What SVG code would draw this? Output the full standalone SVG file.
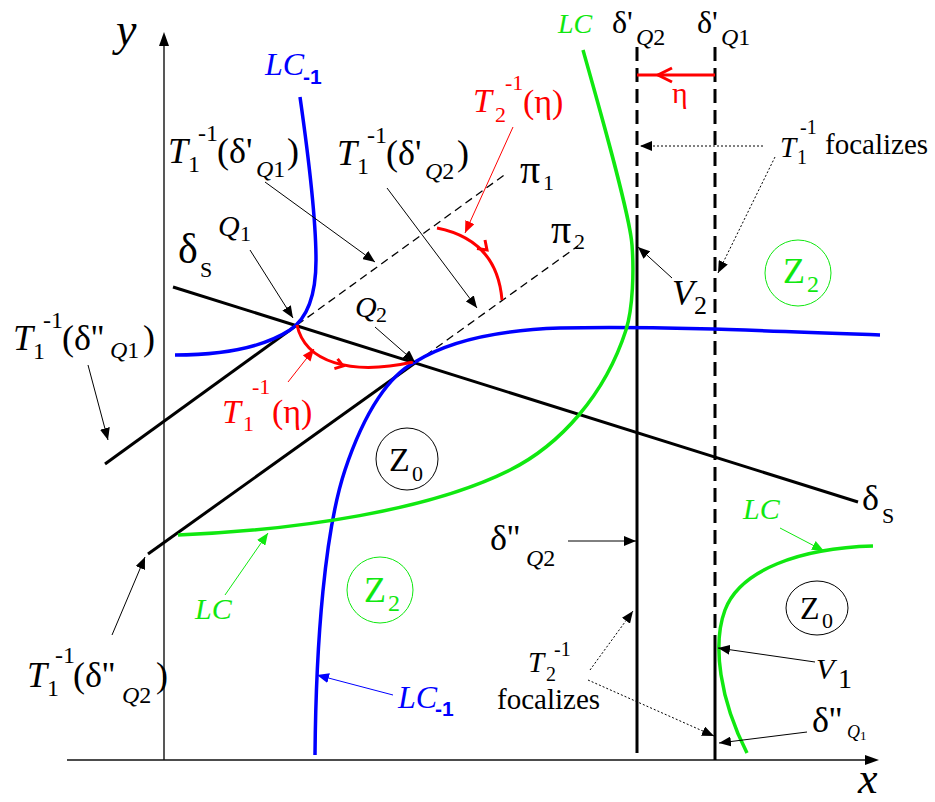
<svg xmlns="http://www.w3.org/2000/svg" width="935" height="802" viewBox="0 0 935 802">
<style>
.ax{stroke:#111;stroke-width:1.4;fill:none}
.thick{stroke:#000;stroke-width:3;fill:none}
.blue{stroke:#0000ff;stroke-width:3.5;fill:none}
.green{stroke:#10e810;stroke-width:3.5;fill:none}
.red{stroke:#ff0000;stroke-width:3;fill:none}
.thin{stroke:#000;stroke-width:1;fill:none}
.dot{stroke:#000;stroke-width:1;stroke-dasharray:2 2;fill:none}
.dashT{stroke:#000;stroke-width:1.3;stroke-dasharray:8 5;fill:none}
.dashV{stroke:#000;stroke-width:3;stroke-dasharray:14 7;fill:none}
text{font-family:'Liberation Serif','Times New Roman',serif}
.i{font-style:italic}
.s{font-family:'Liberation Sans',Arial,sans-serif;font-weight:bold;font-style:normal}
.rt{fill:#ff0000}
.bt{fill:#0000ff}
.gt{fill:#10e810}
</style>
<defs>
<marker id="ak" markerUnits="userSpaceOnUse" markerWidth="12" markerHeight="10" refX="12" refY="5" orient="auto"><path d="M0,0 L12,5 L0,10 z" fill="#000"/></marker>
<marker id="ar" markerUnits="userSpaceOnUse" markerWidth="12" markerHeight="10" refX="12" refY="5" orient="auto"><path d="M0,0 L12,5 L0,10 z" fill="#ff0000"/></marker>
<marker id="ag" markerUnits="userSpaceOnUse" markerWidth="12" markerHeight="10" refX="12" refY="5" orient="auto"><path d="M0,0 L12,5 L0,10 z" fill="#10e810"/></marker>
<marker id="ab" markerUnits="userSpaceOnUse" markerWidth="12" markerHeight="10" refX="12" refY="5" orient="auto"><path d="M0,0 L12,5 L0,10 z" fill="#0000ff"/></marker>
</defs>
<rect width="935" height="802" fill="#fff"/>

<g id="axes">
<line class="ax" x1="164" y1="44" x2="164" y2="760"/>
<polygon points="164,32 159,46 169,46" fill="#000"/>
<line class="ax" x1="67" y1="760" x2="866" y2="760"/>
<polygon points="879,760 865,755 865,765" fill="#000"/>
<text class="i" font-size="46" x="116" y="45">y</text>
<text class="i" font-size="44" x="858" y="793">x</text>
</g>

<g id="lines">
<line class="thick" x1="173" y1="287" x2="858" y2="502"/>
<line class="thick" x1="105" y1="464" x2="297" y2="325"/>
<line class="dashT" x1="297" y1="325" x2="507" y2="173"/>
<line class="thick" x1="148" y1="554" x2="415" y2="363"/>
<line class="dashT" x1="415" y1="363" x2="578" y2="246"/>
<line class="dashV" x1="637" y1="47" x2="637" y2="228"/>
<line class="thick" x1="637" y1="228" x2="637" y2="753"/>
<line class="dashV" x1="715" y1="47" x2="715" y2="632"/>
<line class="thick" x1="715" y1="635" x2="715" y2="760"/>
</g>

<g id="curves">
<path class="blue" d="M300,97 C309,160 316,225 316,260 C316,295 308,318 290,330 C262,348 220,355 175,355"/>
<path class="blue" d="M315,755 C316,640 325,530 345,470 C365,410 390,375 415,362 C450,340 500,330 560,328 C650,326 750,330 880,335"/>
<path class="green" d="M178,535 C300,530 430,510 510,470 C560,445 605,395 626,330 C633,308 634,270 632,245 C630,215 600,110 583,50"/>
<path class="green" d="M873,546 C800,548 740,570 725,610 C712,645 720,700 747,753"/>
<path class="red" d="M297,325 C305,362 350,376 413,362"/>
<polyline class="red" stroke-width="2.5" points="337.6,358.8 343,366 334.4,368.6"/>
<path class="red" d="M437,228 Q497,240 502,300"/>
<polyline class="red" stroke-width="2.5" points="485,240 487,250 477,248.5"/>
<line class="red" x1="715" y1="75" x2="637" y2="75"/>
<polyline class="red" stroke-width="2.5" points="672,68 658,75 672,82"/>
</g>

<g id="zones">
<g id="z0a"><circle cx="407" cy="459" r="31" fill="none" stroke="#000" stroke-width="1"/>
<text font-size="34"><tspan x="389" y="471">Z</tspan><tspan x="412" y="481" font-size="22">0</tspan></text></g>
<g id="z2a"><circle cx="380" cy="590" r="33" fill="none" stroke="#10e810" stroke-width="1"/>
<text class="gt" font-size="36"><tspan x="364" y="602">Z</tspan><tspan x="388" y="611" font-size="24">2</tspan></text></g>
<g id="z2b"><circle cx="798" cy="273" r="33" fill="none" stroke="#10e810" stroke-width="1"/>
<text class="gt" font-size="36"><tspan x="783" y="283">Z</tspan><tspan x="807" y="292" font-size="24">2</tspan></text></g>
<g id="z0b"><ellipse cx="817" cy="608" rx="31" ry="27" fill="none" stroke="#000" stroke-width="1"/>
<text font-size="32"><tspan x="800" y="619">Z</tspan><tspan x="822" y="628" font-size="22">0</tspan></text></g>
</g>

<g id="connectors">
<line class="thin" x1="265" y1="182" x2="375" y2="262" marker-end="url(#ak)"/>
<line class="thin" x1="387" y1="188" x2="477" y2="308" marker-end="url(#ak)"/>
<line class="thin" x1="250" y1="250" x2="293" y2="318" marker-end="url(#ak)"/>
<line class="thin" x1="375" y1="327" x2="415" y2="362" marker-end="url(#ak)"/>
<line class="thin" x1="88" y1="365" x2="108" y2="440" marker-end="url(#ak)"/>
<line class="thin" x1="112" y1="635" x2="145" y2="557" marker-end="url(#ak)"/>
<line class="thin" x1="672" y1="278" x2="638" y2="247" marker-end="url(#ak)"/>
<line class="thin" x1="568" y1="541" x2="636" y2="541" marker-end="url(#ak)"/>
<line class="thin" x1="815" y1="662" x2="718" y2="648" marker-end="url(#ak)"/>
<line class="thin" x1="807" y1="732" x2="719" y2="743" marker-end="url(#ak)"/>
<line class="dot" x1="763" y1="146" x2="640" y2="146" marker-end="url(#ak)"/>
<line class="dot" x1="775" y1="157" x2="718" y2="273" marker-end="url(#ak)"/>
<line class="dot" x1="590" y1="670" x2="633" y2="611" marker-end="url(#ak)"/>
<line class="dot" x1="588" y1="680" x2="714" y2="736" marker-end="url(#ak)"/>
<line stroke="#ff0000" stroke-width="1" x1="288" y1="382" x2="314" y2="349" marker-end="url(#ar)"/>
<line stroke="#ff0000" stroke-width="1" x1="513" y1="127" x2="465" y2="233" marker-end="url(#ar)"/>
<line stroke="#10e810" stroke-width="1" x1="225" y1="595" x2="268" y2="533" marker-end="url(#ag)"/>
<line stroke="#10e810" stroke-width="1" x1="780" y1="528" x2="824" y2="551" marker-end="url(#ag)"/>
<line stroke="#0000ff" stroke-width="1" x1="393" y1="695" x2="317" y2="675" marker-end="url(#ab)"/>
</g>

<g id="labels">
<text font-size="36"><tspan class="i" x="168" y="163">T</tspan><tspan x="188" y="172" font-size="24">1</tspan><tspan x="198" y="141" font-size="24">-1</tspan><tspan x="217" y="163">(δ'</tspan><tspan class="i" x="256" y="177" font-size="24">Q</tspan><tspan y="177" font-size="24">1</tspan><tspan x="287" y="163">)</tspan></text>
<text font-size="36"><tspan class="i" x="337" y="165">T</tspan><tspan x="357" y="174" font-size="24">1</tspan><tspan x="367" y="143" font-size="24">-1</tspan><tspan x="386" y="165">(δ'</tspan><tspan class="i" x="425" y="179" font-size="24">Q</tspan><tspan y="179" font-size="24">2</tspan><tspan x="457" y="165">)</tspan></text>
<text font-size="36"><tspan class="i" x="13" y="350">T</tspan><tspan x="33" y="359" font-size="24">1</tspan><tspan x="43" y="328" font-size="24">-1</tspan><tspan x="62" y="350">(δ''</tspan><tspan class="i" x="110" y="358" font-size="24">Q</tspan><tspan y="358" font-size="24">1</tspan><tspan x="143" y="350">)</tspan></text>
<text font-size="36"><tspan class="i" x="27" y="687">T</tspan><tspan x="47" y="696" font-size="24">1</tspan><tspan x="55" y="663" font-size="24">-1</tspan><tspan x="73" y="687">(δ''</tspan><tspan class="i" x="122" y="703" font-size="24">Q</tspan><tspan y="703" font-size="24">2</tspan><tspan x="156" y="687">)</tspan></text>
<text class="rt" font-size="34"><tspan class="i" x="222" y="423">T</tspan><tspan x="243" y="431" font-size="22">1</tspan><tspan x="252" y="394" font-size="22">-1</tspan><tspan x="272" y="423">(η)</tspan></text>
<text class="rt" font-size="34"><tspan class="i" x="473" y="112">T</tspan><tspan x="495" y="122" font-size="22">2</tspan><tspan x="505" y="90" font-size="22">-1</tspan><tspan x="523" y="113">(η)</tspan></text>
<text class="rt" font-size="30" x="672" y="103">η</text>
<text font-size="29"><tspan class="i" x="780" y="157">T</tspan><tspan x="797" y="164" font-size="20">1</tspan><tspan x="800" y="134" font-size="20">-1</tspan><tspan x="825" y="154">focalizes</tspan></text>
<text font-size="29"><tspan class="i" x="528" y="672">T</tspan><tspan x="546" y="681" font-size="20">2</tspan><tspan x="554" y="656" font-size="20">-1</tspan><tspan x="497" y="709">focalizes</tspan></text>
<text font-size="36"><tspan class="i" x="672" y="305">V</tspan><tspan x="694" y="314" font-size="26">2</tspan></text>
<text font-size="30"><tspan class="i" x="816" y="679">V</tspan><tspan x="838" y="688" font-size="28">1</tspan></text>
<text font-size="30"><tspan class="i" x="218" y="236">Q</tspan><tspan x="240" y="241" font-size="22">1</tspan></text>
<text font-size="30"><tspan class="i" x="355" y="317">Q</tspan><tspan x="376" y="322" font-size="22">2</tspan></text>
<text font-size="40"><tspan x="520" y="183">π</tspan><tspan x="543" y="190" font-size="22">1</tspan></text>
<text font-size="40"><tspan x="551" y="243">π</tspan><tspan x="574" y="249" font-size="22">2</tspan></text>
<text font-size="42"><tspan x="178" y="263">δ</tspan><tspan x="200" y="277" font-size="22">S</tspan></text>
<text font-size="36"><tspan x="862" y="510">δ</tspan><tspan x="882" y="523" font-size="22">S</tspan></text>
<text font-size="32"><tspan x="612" y="33">δ'</tspan><tspan class="i" x="636" y="45" font-size="24">Q</tspan><tspan y="45" font-size="24">2</tspan></text>
<text font-size="32"><tspan x="697" y="33">δ'</tspan><tspan class="i" x="721" y="45" font-size="24">Q</tspan><tspan y="45" font-size="24">1</tspan></text>
<text font-size="36"><tspan x="490" y="550">δ''</tspan><tspan class="i" x="526" y="566" font-size="24">Q</tspan><tspan y="566" font-size="24">2</tspan></text>
<text font-size="36"><tspan x="812" y="732">δ''</tspan><tspan class="i" x="847" y="738" font-size="18">Q</tspan><tspan y="740" font-size="13">1</tspan></text>
<text class="i bt" font-size="32"><tspan x="265" y="75">LC</tspan><tspan class="s" x="303" y="84" font-size="21">-1</tspan></text>
<text class="i bt" font-size="32"><tspan x="398" y="708">LC</tspan><tspan class="s" x="435" y="716" font-size="21">-1</tspan></text>
<text class="i gt" font-size="28" x="558" y="33">LC</text>
<text class="i gt" font-size="30" x="195" y="619">LC</text>
<text class="i gt" font-size="30" x="743" y="519">LC</text>
</g>
</svg>
